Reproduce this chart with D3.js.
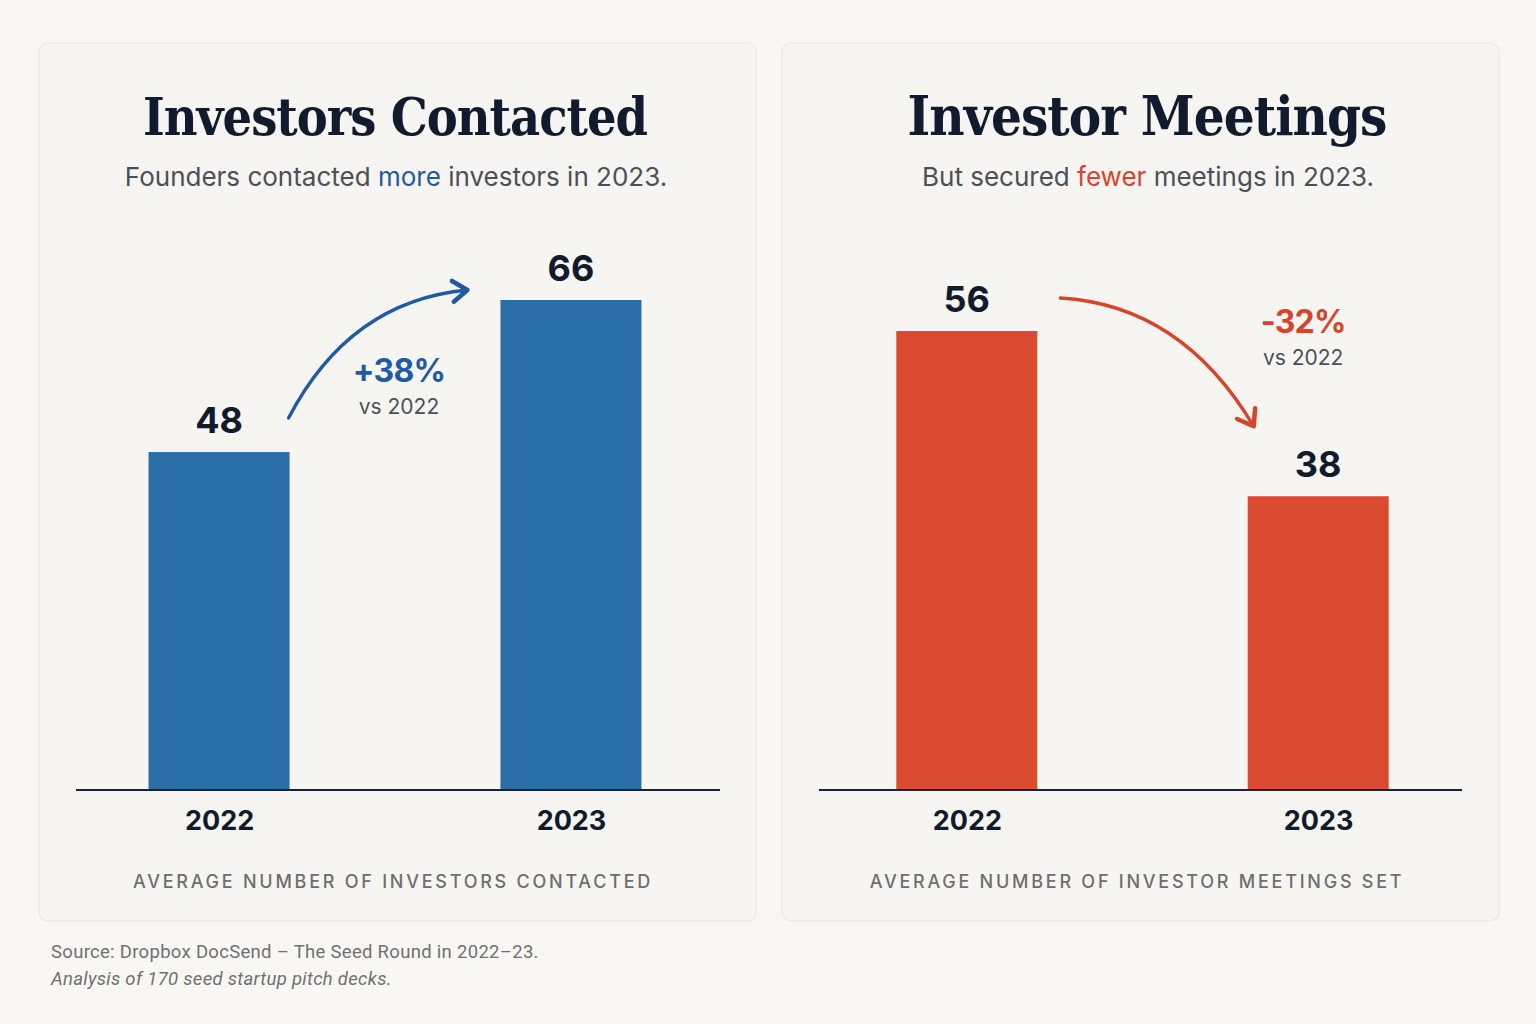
<!DOCTYPE html>
<html>
<head>
<meta charset="utf-8">
<script src="https://cdn.jsdelivr.net/npm/d3@7"></script>
<style>
  html, body { margin: 0; padding: 0; background: #f9f7f4; }
  svg { display: block; }
</style>
</head>
<body>
<svg id="chart" width="1536" height="1024"></svg>
<script>
// data
const years = ["2022", "2023"];
const contacted = [48, 66];
const meetings = [56, 38];
const changes = ["+38%", "-32%"];
const titles = ["Investors Contacted", "Investor Meetings"];
const subtitles = [
  ["Founders contacted ", "more", " investors in 2023."],
  ["But secured ", "fewer", " meetings in 2023."]
];
const captions = ["AVERAGE NUMBER OF INVESTORS CONTACTED", "AVERAGE NUMBER OF INVESTOR MEETINGS SET"];
const sourceLines = ["Source: Dropbox DocSend \u2013 The Seed Round in 2022\u201323.", "Analysis of 170 seed startup pitch decks."];

const sans = "Inter, 'Noto Sans', sans-serif";
const serif = "'DejaVu Serif Condensed', 'DejaVu Serif', 'Liberation Serif', serif";
const ink = "#101b2e";

const svg = d3.select("#chart");

const panels = [
  {x: 39, values: contacted, color: "#2a6ea8", accent: "#1f5aa6", domainMin: 8, top: 300,
   plotL: 76, plotR: 720, shift: -3, center: 394, titleW: 505, capCenter: 393},
  {x: 782, values: meetings, color: "#da4a2f", accent: "#d8432a", domainMin: 6, top: 331,
   plotL: 819, plotR: 1462, shift: 2, center: 1146, titleW: 479, capCenter: 1137}
];

const baseY = 790;

panels.forEach((p, i) => {
  const g = svg.append("g");

  g.append("rect")
    .attr("x", p.x).attr("y", 43)
    .attr("width", 717).attr("height", 878)
    .attr("rx", 9).attr("ry", 9)
    .attr("fill", "#f7f5f1")
    .attr("stroke", "#ebe7e1").attr("stroke-width", 1.2);

  // title, sized to the panel's target width
  const t = g.append("text")
    .attr("x", p.center + 1).attr("y", 135)
    .attr("text-anchor", "middle")
    .attr("font-family", serif).attr("font-weight", "bold")
    .attr("font-size", 54).attr("letter-spacing", -1)
    .attr("fill", ink)
    .text(titles[i]);
  const tw = t.node().getComputedTextLength();
  if (tw) t.attr("font-size", 54 * p.titleW / tw);

  const sub = g.append("text")
    .attr("x", p.center + 2).attr("y", 186)
    .attr("text-anchor", "middle")
    .attr("font-family", sans).attr("font-size", 26)
    .attr("fill", "#4b5058");
  subtitles[i].forEach((s, k) => {
    sub.append("tspan").attr("fill", k == 1 ? p.accent : null).text(s);
  });

  const x = d3.scalePoint()
    .domain(years)
    .range([p.plotL + p.shift, p.plotR + p.shift])
    .padding(0.415);

  const y = d3.scaleLinear()
    .domain([p.domainMin, d3.max(p.values)])
    .range([baseY, p.top]);

  const bw = 141;

  g.selectAll(".bar")
    .data(p.values)
    .enter()
    .append("rect")
    .attr("class", "bar")
    .attr("x", (d, k) => x(years[k]) - bw / 2)
    .attr("y", d => y(d))
    .attr("width", bw)
    .attr("height", d => baseY - y(d))
    .attr("fill", p.color);

  g.selectAll(".val")
    .data(p.values)
    .enter()
    .append("text")
    .attr("class", "val")
    .attr("x", (d, k) => x(years[k]))
    .attr("y", d => y(d) - 19)
    .attr("text-anchor", "middle")
    .attr("font-family", sans).attr("font-weight", "bold")
    .attr("font-size", 36).attr("fill", ink)
    .text(d => d);

  // baseline + year labels
  const axis = d3.axisBottom(x).tickSize(0).tickPadding(21);
  const ax = g.append("g")
    .attr("transform", `translate(0,${baseY})`)
    .call(axis);
  ax.select(".domain").remove();
  ax.selectAll("text")
    .attr("font-family", sans).attr("font-weight", "bold")
    .attr("font-size", 27).attr("fill", ink);
  g.append("line")
    .attr("x1", p.plotL).attr("x2", p.plotR)
    .attr("y1", baseY).attr("y2", baseY)
    .attr("stroke", "#1a2236").attr("stroke-width", 2);

  g.append("text")
    .attr("x", p.capCenter).attr("y", 888)
    .attr("text-anchor", "middle")
    .attr("font-family", sans).attr("font-size", 18)
    .attr("letter-spacing", 2.75)
    .attr("font-weight", 500)
    .attr("fill", "#6e6e70")
    .text(captions[i]);

  // change annotation arrow
  const x0 = x(years[0]), x1 = x(years[1]);
  const v0 = p.values[0], v1 = p.values[1];
  let path, headAngle, tip, lblX, lblY;
  if (v1 > v0) {
    const s = [x0 + bw / 2 - 1, y(v0) - 34];
    tip = [x1 - bw / 2 - 33, y(v1) - 10];
    const c = [x0 + bw / 2 + 60, y(v1) + 1];
    path = `M${s[0]},${s[1]} Q${c[0]},${c[1]} ${tip[0]},${tip[1]}`;
    headAngle = Math.atan2(tip[1] - c[1], tip[0] - c[0]);
    lblX = (x0 + x1) / 2 + 4; lblY = 382;
  } else {
    const s = [x0 + bw / 2 + 23, y(v0) - 33];
    tip = [x1 - bw / 2 + 6, y(v1) - 70];
    const c = [x0 + bw / 2 + 144, y(v0) - 26];
    path = `M${s[0]},${s[1]} Q${c[0]},${c[1]} ${tip[0]},${tip[1]}`;
    headAngle = Math.atan2(tip[1] - c[1], tip[0] - c[0]);
    lblX = x1 - 15; lblY = 333;
  }
  g.append("path")
    .attr("d", path)
    .attr("fill", "none")
    .attr("stroke", p.accent).attr("stroke-width", 3.3)
    .attr("stroke-linecap", "round");

  const hl = 18, spread = 0.62;
  const h1 = [tip[0] - hl * Math.cos(headAngle - spread), tip[1] - hl * Math.sin(headAngle - spread)];
  const h2 = [tip[0] - hl * Math.cos(headAngle + spread), tip[1] - hl * Math.sin(headAngle + spread)];
  g.append("path")
    .attr("d", `M${h1[0]},${h1[1]} L${tip[0]},${tip[1]} L${h2[0]},${h2[1]}`)
    .attr("fill", "none")
    .attr("stroke", p.accent).attr("stroke-width", 4.5)
    .attr("stroke-linecap", "round").attr("stroke-linejoin", "round");

  g.append("text")
    .attr("x", lblX).attr("y", lblY)
    .attr("text-anchor", "middle")
    .attr("font-family", sans).attr("font-weight", "bold")
    .attr("font-size", 32).attr("letter-spacing", -0.8)
    .attr("fill", p.accent)
    .text(changes[i]);
  g.append("text")
    .attr("x", lblX).attr("y", lblY + 32)
    .attr("text-anchor", "middle")
    .attr("font-family", sans).attr("font-size", 21)
    .attr("fill", "#4b5058")
    .text("vs 2022");
});

// source note
svg.selectAll(".src")
  .data(sourceLines)
  .enter()
  .append("text")
  .attr("class", "src")
  .attr("x", 51)
  .attr("y", (d, k) => 958 + k * 27)
  .attr("font-family", "Roboto, sans-serif")
  .attr("font-size", 18.5)
  .attr("letter-spacing", 0.3)
  .attr("font-style", (d, k) => k == 1 ? "italic" : "normal")
  .attr("fill", "#707070")
  .text(d => d);
</script>
</body>
</html>
